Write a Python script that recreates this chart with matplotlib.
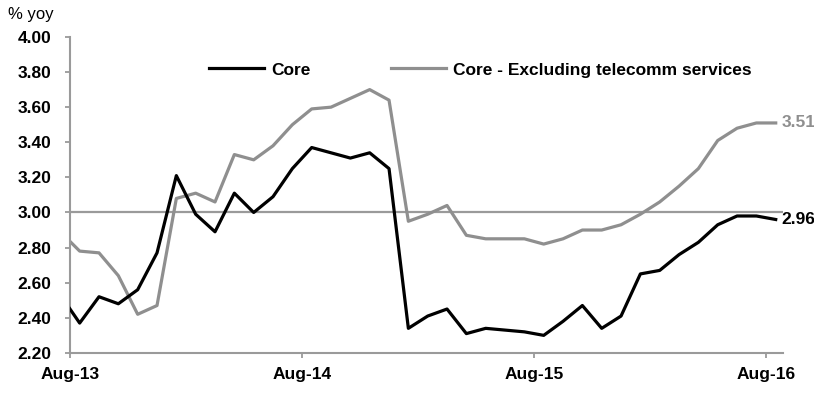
import matplotlib
matplotlib.use("Agg")
import matplotlib.pyplot as plt
from matplotlib import font_manager

# Jul-13 .. Aug-16, monthly, % yoy (first point sits left of the axis and gets clipped)
months = ["Jul-13", "Aug-13", "Sep-13", "Oct-13", "Nov-13", "Dec-13", "Jan-14", "Feb-14",
          "Mar-14", "Apr-14", "May-14", "Jun-14", "Jul-14", "Aug-14", "Sep-14", "Oct-14",
          "Nov-14", "Dec-14", "Jan-15", "Feb-15", "Mar-15", "Apr-15", "May-15", "Jun-15",
          "Jul-15", "Aug-15", "Sep-15", "Oct-15", "Nov-15", "Dec-15", "Jan-16", "Feb-16",
          "Mar-16", "Apr-16", "May-16", "Jun-16", "Jul-16", "Aug-16"]
core = [2.53, 2.37, 2.52, 2.48, 2.56, 2.77, 3.21, 2.99, 2.89, 3.11, 3.00, 3.09, 3.25,
        3.37, 3.34, 3.31, 3.34, 3.25, 2.34, 2.41, 2.45, 2.31, 2.34, 2.33, 2.32, 2.30,
        2.38, 2.47, 2.34, 2.41, 2.65, 2.67, 2.76, 2.83, 2.93, 2.98, 2.98, 2.96]
core_ex_tel = [2.89, 2.78, 2.77, 2.64, 2.42, 2.47, 3.08, 3.11, 3.06, 3.33, 3.30, 3.38, 3.50,
               3.59, 3.60, 3.65, 3.70, 3.64, 2.95, 2.99, 3.04, 2.87, 2.85, 2.85, 2.85, 2.82,
               2.85, 2.90, 2.90, 2.93, 2.99, 3.06, 3.15, 3.25, 3.41, 3.48, 3.51, 3.51]
tick_labels = ["Aug-13", "Aug-14", "Aug-15", "Aug-16"]
yticks = [2.20, 2.40, 2.60, 2.80, 3.00, 3.20, 3.40, 3.60, 3.80, 4.00]
ref_level = 3.00

# pick a narrow font if there is one
names = {f.name for f in font_manager.fontManager.ttflist}
fam = ["Liberation Sans Narrow", "Liberation Sans", "DejaVu Sans"]
fam = [f for f in fam if f in names] or ["DejaVu Sans"]
plt.rcParams["font.family"] = fam

GREY = "#8f8f8f"
AXC = "#9a9a9a"
FS = 12.5

# data sits mid-month, ticks at month start
x = [i - 0.5 for i in range(len(months))]

fig = plt.figure(figsize=(8.14, 3.93), dpi=100)
ax = fig.add_axes([0.086, 0.102, 0.876, 0.804])

ax.axhline(ref_level, color=AXC, lw=1.6, zorder=1)
ax.plot(x, core, color="black", lw=2.3, label="Core", zorder=3)
ax.plot(x, core_ex_tel, color=GREY, lw=2.3, label="Core - Excluding telecomm services", zorder=2)

ax.set_xlim(0, 36.88)
ax.set_ylim(2.2, 4.0)
ax.set_yticks(yticks)
ax.set_yticklabels(["%.2f" % v for v in yticks], fontsize=FS, fontweight="bold")
ax.set_xticks([0, 12, 24, 36])
ax.set_xticklabels(tick_labels, fontsize=FS, fontweight="bold")

for s in ["top", "right"]:
    ax.spines[s].set_visible(False)
for s in ["left", "bottom"]:
    ax.spines[s].set_color(AXC)
    ax.spines[s].set_linewidth(1.5)
ax.tick_params(axis="both", colors=AXC, labelcolor="black", length=3.5, width=1.3)
ax.tick_params(axis="x", pad=7)
ax.tick_params(axis="y", pad=10)

# end labels
ax.text(x[-1] + 0.3, core_ex_tel[-1], "%.2f" % core_ex_tel[-1], color=GREY,
        fontsize=FS, fontweight="bold", va="center", ha="left", clip_on=False)
ax.text(x[-1] + 0.3, core[-1], "%.2f" % core[-1], color="black",
        fontsize=FS, fontweight="bold", va="center", ha="left", clip_on=False)

fig.text(0.01, 0.962, "% yoy", fontsize=12, va="center", ha="left")

leg = fig.legend(loc="center", bbox_to_anchor=(0.59, 0.822), ncol=2, frameon=False,
                 handlelength=3.2, columnspacing=4.6, handletextpad=0.4,
                 prop={"size": FS, "weight": "bold"})

fig.savefig("out.png", dpi=100)
